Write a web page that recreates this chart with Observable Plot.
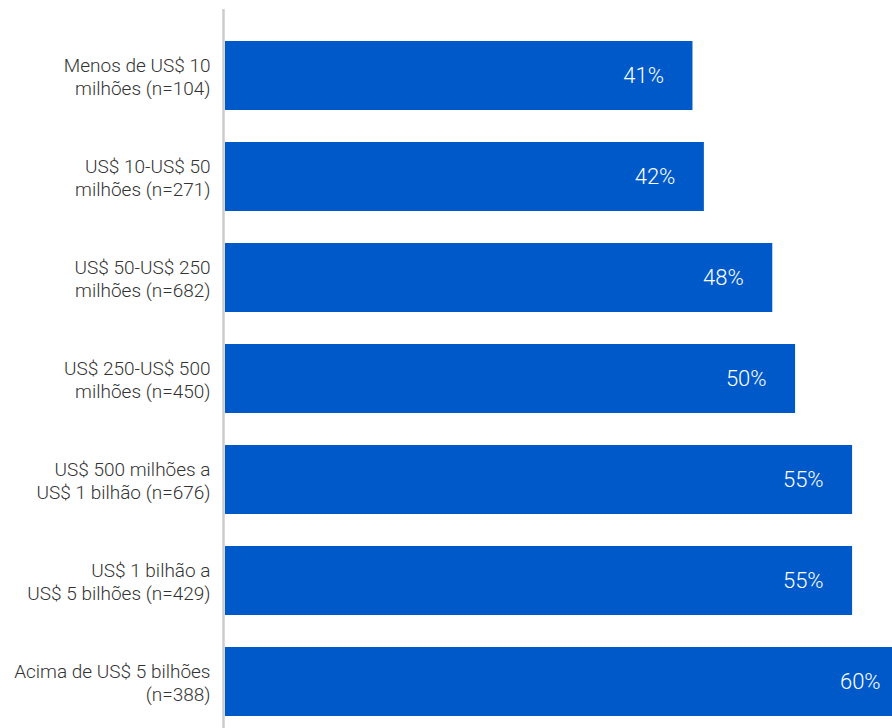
<!DOCTYPE html>
<html>
<head>
<meta charset="utf-8">
<script src="https://cdn.jsdelivr.net/npm/d3@7"></script>
<script src="https://cdn.jsdelivr.net/npm/@observablehq/plot@0.6"></script>
<style>
  html, body { margin: 0; padding: 0; background: #fff; }
  #chart svg { display: block; }
</style>
</head>
<body>
<div id="chart"></div>
<script>
const categories = [
  "Menos de US$ 10\nmilhões (n=104)",
  "US$ 10-US$ 50\nmilhões (n=271)",
  "US$ 50-US$ 250\nmilhões (n=682)",
  "US$ 250-US$ 500\nmilhões (n=450)",
  "US$ 500 milhões a\nUS$ 1 bilhão (n=676)",
  "US$ 1 bilhão a\nUS$ 5 bilhões (n=429)",
  "Acima de US$ 5 bilhões\n(n=388)"
];
const values = [41, 42, 48, 50, 55, 55, 60];

const data = categories.map((c, i) => ({category: c, value: values[i]}));

const chart = Plot.plot({
  width: 892,
  height: 728,
  marginLeft: 225,
  marginRight: 0,
  marginTop: 9,
  marginBottom: 0,
  style: {fontFamily: "Roboto, sans-serif", background: "#fff", overflow: "hidden"},
  x: {domain: [0, 58.5], range: [225, 892], axis: null},
  y: {domain: categories, range: [40, 717], paddingInner: 0.32, paddingOuter: 0, label: null},
  marks: [
    Plot.barX(data, {x: "value", y: "category", fill: "#0059C9", clip: true}),
    Plot.text(data, {
      x: "value", y: "category",
      text: d => d.value + "%",
      textAnchor: "end", dx: -29,
      fill: "#fff", fontSize: 22, fontWeight: 300
    }),
    Plot.axisY({
      tickSize: 0, tickPadding: 15, fontSize: 19, fontWeight: 300,
      color: "#333", lineHeight: 1.2, label: null
    }),
    Plot.ruleX([0], {dx: -2, stroke: "#ccc", strokeWidth: 2.5})
  ]
});
document.getElementById("chart").appendChild(chart);
</script>
</body>
</html>
